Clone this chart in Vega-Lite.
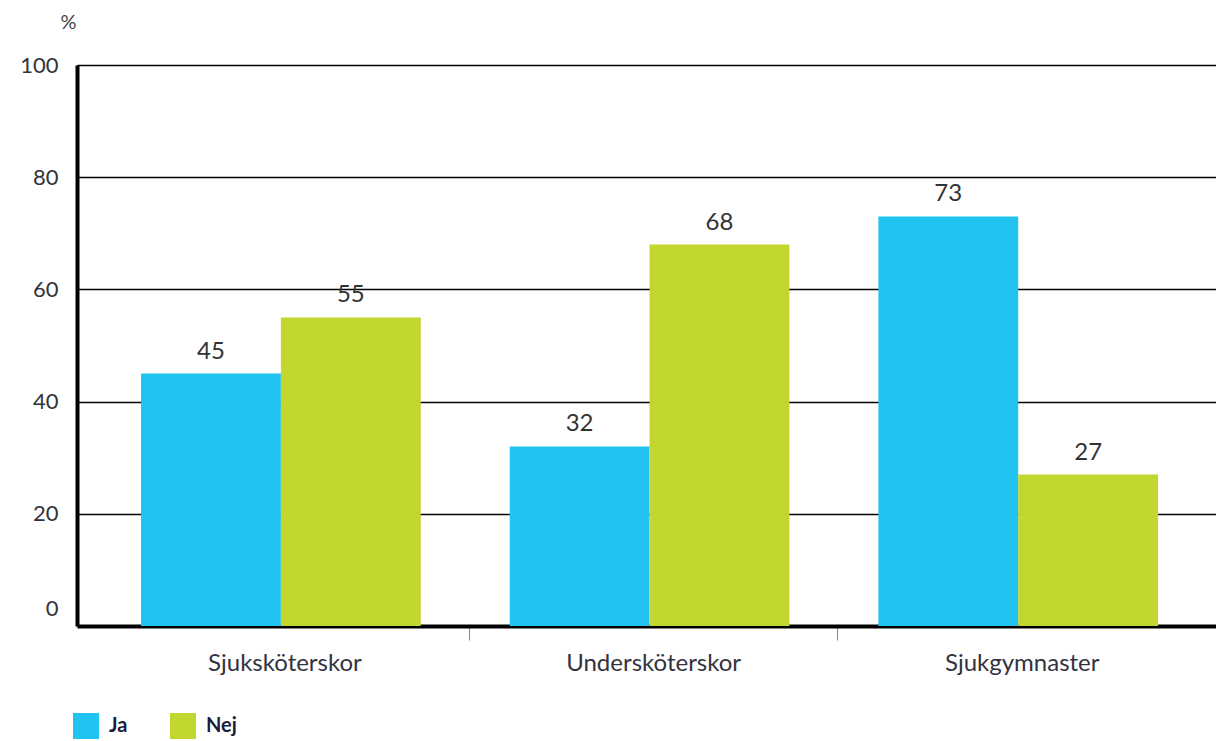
{
  "$schema": "https://vega.github.io/schema/vega-lite/v6.json",
  "autosize": {"type": "none"},
  "padding": {"left": 77, "top": 65, "right": 0, "bottom": 115},
  "width": 1139,
  "height": 561,
  "background": "white",
  "config": {
    "font": "Lato",
    "view": {"stroke": null}
  },
  "data": {
    "values": [
      {"yrke": "Sjuksköterskor", "svar": "Ja", "procent": 45},
      {"yrke": "Sjuksköterskor", "svar": "Nej", "procent": 55},
      {"yrke": "Undersköterskor", "svar": "Ja", "procent": 32},
      {"yrke": "Undersköterskor", "svar": "Nej", "procent": 68},
      {"yrke": "Sjukgymnaster", "svar": "Ja", "procent": 73},
      {"yrke": "Sjukgymnaster", "svar": "Nej", "procent": 27}
    ]
  },
  "encoding": {
    "x": {
      "field": "yrke",
      "type": "nominal",
      "sort": ["Sjuksköterskor", "Undersköterskor", "Sjukgymnaster"],
      "scale": {"paddingInner": 0, "paddingOuter": 0.0448, "align": 0.7},
      "axis": {
        "title": null,
        "labelAngle": 0,
        "labelFontSize": 24,
        "labelColor": "#333340",
        "labelPadding": 11,
        "labelOffset": 184.3,
        "domainColor": "black",
        "domainWidth": 4,
        "tickSize": 14,
        "tickWidth": 1,
        "tickOffset": -184.3,
        "tickColor": {"condition": {"test": "datum.value === 'Sjuksköterskor'", "value": "transparent"}, "value": "#888888"},
        "grid": false
      }
    },
    "xOffset": {
      "field": "svar",
      "type": "nominal",
      "sort": ["Ja", "Nej"],
      "scale": {"paddingInner": 0, "paddingOuter": 0.318, "align": 0.46}
    },
    "y": {
      "field": "procent",
      "type": "quantitative",
      "scale": {"domain": [0, 100], "nice": false},
      "axis": {
        "title": "%",
        "titleAngle": 0,
        "titleX": -9,
        "titleY": -43,
        "titleAlign": "center",
        "titleBaseline": "middle",
        "titleFontSize": 20,
        "titleFontWeight": "normal",
        "titleColor": "#444444",
        "values": [0, 20, 40, 60, 80, 100],
        "labelFontSize": 22,
        "labelColor": "#333340",
        "labelPadding": 19,
        "labelOffset": {"condition": {"test": "datum.value === 0", "value": -18}, "value": 0},
        "ticks": false,
        "domainColor": "black",
        "domainWidth": 4,
        "grid": true,
        "gridColor": "black",
        "gridWidth": 1.5
      }
    }
  },
  "layer": [
    {
      "mark": {"type": "bar"},
      "encoding": {
        "color": {
          "field": "svar",
          "type": "nominal",
          "sort": ["Ja", "Nej"],
          "scale": {"domain": ["Ja", "Nej"], "range": ["#21C3F0", "#C2D630"]},
          "legend": {
            "title": null,
            "orient": "none",
            "direction": "horizontal",
            "legendX": -4,
            "legendY": 648,
            "padding": 0,
            "symbolType": "square",
            "symbolSize": 676,
            "symbolStrokeWidth": 0,
            "labelFontSize": 20,
            "labelFontWeight": "bold",
            "labelColor": "#1b1b3a",
            "labelOffset": 10,
            "columnPadding": 42
          }
        }
      }
    },
    {
      "mark": {"type": "text", "baseline": "bottom", "dy": -10, "fontSize": 24, "color": "#333333"},
      "encoding": {
        "text": {"field": "procent", "type": "quantitative"}
      }
    }
  ]
}
